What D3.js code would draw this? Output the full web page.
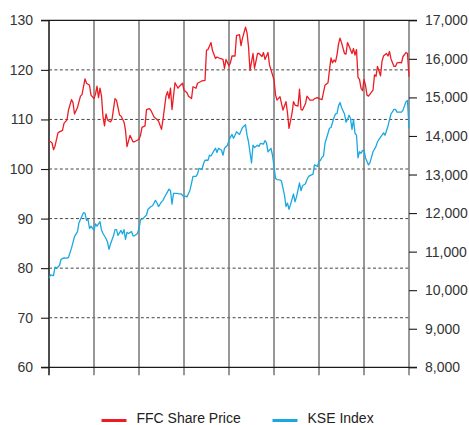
<!DOCTYPE html>
<html>
<head>
<meta charset="utf-8">
<script src="https://cdn.jsdelivr.net/npm/d3@7"></script>
<style>
  html, body { margin: 0; padding: 0; background: #fff; }
  svg { display: block; font-family: "Liberation Sans", Arial, sans-serif; }
</style>
</head>
<body>
<svg id="chart" width="469" height="425"></svg>
<script>
// Trading-session index (0..240) for each FFC observation, and the share price (PKR)
const ffcSession = [0,2,3,4,6,7,9,10,12,13,15,16,17,19,20,21,22,24,25,27,28,30,31,32,33,34,35,36,37,38,39,41,42,44,45,47,48,50,51,52,54,56,57,60,61,62,64,65,67,68,70,72,73,75,76,78,79,80,81,82,83,84,86,87,89,90,92,93,95,96,98,99,101,102,104,105,106,108,109,111,112,114,116,117,118,120,121,122,124,125,127,128,129,131,132,133,134,136,137,139,140,142,143,144,146,147,148,150,151,152,154,155,156,158,159,160,162,163,164,166,167,168,169,171,172,174,176,177,179,180,182,184,186,187,188,189,190,191,192,193,194,195,197,198,199,200,202,203,204,205,206,207,208,209,210,211,212,213,214,216,217,218,219,221,222,223,225,226,227,228,230,231,232,234,235,236,238,239,240];
const ffcPrice = [105.7,105.3,103.9,104.6,107.3,107.5,107.8,109.2,109.9,111.9,114,113.4,111.1,112.4,113.6,114.7,115,118.2,117.3,116.9,114.9,114.2,115.1,116.7,114.4,116.3,114.7,110.5,108.7,111.1,109.9,109.5,110,114.2,113.9,110.9,110.7,109.5,107.8,104.5,106.8,105.5,105.5,106,106.8,108.4,108.7,112,112.2,111.8,110.5,110,109.7,108,110,114.7,115.6,114.2,116.3,112,114.7,117.4,116.3,116.7,117.3,115.9,115.4,114.7,114.2,116.6,116.3,117.3,117.6,117.8,117.9,124,124.1,125.5,123.9,122.3,122.6,122.3,122.1,120.3,122.1,120.8,121.5,122.8,122.8,126.9,127.1,124.9,126.4,128.6,127.5,124.7,119.9,123.3,120.3,123.3,123.3,122.7,123.5,122.1,123.5,121,120,118,115,113.9,114.6,113.2,111.9,113.6,111.3,108.2,111.2,113.6,112.9,112.7,116.1,112,111.9,113.2,114.7,113.9,113.9,114.2,114.4,114.2,114,116.9,117.4,120,122.4,121.4,122,121.6,123,125.2,126.4,125.5,123.3,123.2,125.5,124.8,123.3,124.3,123,124.1,118.5,118.1,116.3,115.8,118.1,116.9,114.9,114.7,115.1,115.9,119,118.7,120.7,118.8,121.7,122.8,123.3,122.8,123.7,122.2,120.7,120.7,121.4,121.5,121.4,122.7,123.5,123.3,118.6];

// Trading-session index for each KSE observation, and the index level
const kseSession = [0,1,3,4,5,7,8,10,12,13,15,16,17,19,20,21,23,24,25,26,27,28,30,31,32,34,35,36,38,39,40,41,43,44,45,46,48,49,50,51,52,53,55,56,57,59,60,61,63,65,66,68,69,71,72,73,75,76,77,79,80,81,82,83,85,87,88,90,91,92,94,95,96,98,99,100,102,103,104,106,107,108,110,111,112,113,115,116,117,119,120,122,123,124,125,127,128,129,131,132,133,135,136,137,139,140,141,143,144,145,146,148,149,150,151,152,154,155,156,157,158,159,160,161,163,164,165,167,168,169,171,172,173,175,176,177,179,180,181,182,183,184,186,187,188,190,191,192,193,194,195,197,198,199,200,201,202,203,204,205,206,207,208,209,210,211,213,214,215,216,218,219,220,222,223,224,226,227,228,230,231,232,234,235,236,238,239,240];
const kseIndex = [10310,10400,10380,10600,10570,10640,10800,10840,10830,10850,11090,11240,11390,11520,11750,11840,12010,12000,11810,11840,11600,11660,11550,11720,11660,11780,11560,11470,11340,11250,11060,11200,11410,11570,11570,11420,11550,11460,11570,11320,11500,11470,11520,11410,11410,11470,11600,11820,11870,11950,12100,12170,12190,12330,12260,12170,12290,12330,12410,12550,12620,12580,12230,12510,12510,12500,12500,12420,12440,12420,12600,12770,12950,12950,13010,13160,13130,13280,13370,13370,13500,13480,13620,13680,13570,13680,13630,13500,13680,13760,13900,14040,13940,14020,14110,14040,14130,14220,14290,14020,13850,13300,13760,13700,13760,13730,13810,13790,13880,13820,13590,13680,13500,13210,12900,12870,12860,12830,12640,12460,12170,12260,12100,12220,12500,12290,12420,12780,12580,12710,12760,12870,12950,12990,13010,13250,13210,13340,13370,13450,13480,13810,14070,14200,14220,14480,14570,14580,14780,14870,14740,14570,14360,14430,14540,14450,14170,14430,14070,14020,13430,13590,13550,13620,13630,13430,13250,13310,13450,13590,13730,13850,13910,14020,14080,14020,14260,14420,14570,14690,14690,14620,14620,14620,14670,14890,14920,14200];

// Axis ticks
const priceTicks = [60, 70, 80, 90, 100, 110, 120, 130];
const indexTicks = [8000, 9000, 10000, 11000, 12000, 13000, 14000, 15000, 16000, 17000];
const periodBreaks = [0, 30, 60, 90, 120, 150, 180, 210, 240];

const seriesNames = ["FFC Share Price", "KSE Index"];
const seriesColors = ["#ed1c24", "#1aa8e2"];

const svg = d3.select("#chart");
const plotLeft = 49, plotRight = 409, plotTop = 20.3, plotBottom = 367.3;

const x = d3.scaleLinear().domain([0, 240]).range([plotLeft, plotRight]);
const yL = d3.scaleLinear().domain([60, 130]).range([plotBottom, plotTop]);
const yR = d3.scaleLinear().domain([8000, 17000]).range([plotBottom, plotTop]);

// Dashed horizontal gridlines (interior price levels)
svg.append("g")
  .selectAll("line")
  .data(priceTicks.filter(d => d > 60 && d < 130))
  .join("line")
  .attr("x1", plotLeft).attr("x2", plotRight)
  .attr("y1", d => yL(d)).attr("y2", d => yL(d))
  .attr("stroke", "#444")
  .attr("stroke-width", 1)
  .attr("stroke-dasharray", "3,2.4");

// Vertical period separators, extending below the baseline as ticks
svg.append("g")
  .selectAll("line")
  .data(periodBreaks)
  .join("line")
  .attr("x1", d => x(d)).attr("x2", d => x(d))
  .attr("y1", plotTop).attr("y2", plotBottom + 8)
  .attr("stroke", (d, i) => i === 0 ? "#3a3a3a" : "#767676")
  .attr("stroke-width", (d, i) => i === 0 ? 1.8 : 1.5);

// Top and bottom frame lines spanning the tick marks on both sides
svg.append("g")
  .selectAll("line")
  .data([130, 60])
  .join("line")
  .attr("x1", plotLeft - 8).attr("x2", plotRight + 8)
  .attr("y1", d => yL(d)).attr("y2", d => yL(d))
  .attr("stroke", "#1a1a1a")
  .attr("stroke-width", 1.3);

// Left axis (share price)
const axL = svg.append("g")
  .attr("transform", `translate(${plotLeft},0)`)
  .call(d3.axisLeft(yL).tickValues(priceTicks).tickSize(8).tickPadding(8));
axL.select(".domain").remove();
axL.selectAll(".tick line").attr("stroke", "#1a1a1a").attr("stroke-width", 1.1);
axL.selectAll(".tick text").attr("fill", "#333").style("font-size", "14px")
  .style("font-family", "'Liberation Sans', Arial, sans-serif");

// Right axis (index level)
const axR = svg.append("g")
  .attr("transform", `translate(${plotRight},0)`)
  .call(d3.axisRight(yR).tickValues(indexTicks).tickSize(8).tickPadding(8).tickFormat(d3.format(",")));
axR.select(".domain").remove();
axR.selectAll(".tick line").attr("stroke", "#1a1a1a").attr("stroke-width", 1.1);
axR.selectAll(".tick text").attr("fill", "#333").style("font-size", "14px")
  .style("font-family", "'Liberation Sans', Arial, sans-serif");

// Series lines
const ffcLine = d3.line().x((d, i) => x(ffcSession[i])).y(d => yL(d));
const kseLine = d3.line().x((d, i) => x(kseSession[i])).y(d => yR(d));

svg.append("path")
  .datum(kseIndex)
  .attr("d", kseLine)
  .attr("fill", "none")
  .attr("stroke", seriesColors[1])
  .attr("stroke-width", 1.3)
  .attr("stroke-linejoin", "round");

svg.append("path")
  .datum(ffcPrice)
  .attr("d", ffcLine)
  .attr("fill", "none")
  .attr("stroke", seriesColors[0])
  .attr("stroke-width", 1.3)
  .attr("stroke-linejoin", "round");

// Legend
const legendPos = [101.5, 272.5];
const legend = svg.append("g");
const item = legend.selectAll("g")
  .data(seriesNames)
  .join("g")
  .attr("transform", (d, i) => `translate(${legendPos[i]},420.5)`);
item.append("line")
  .attr("x1", 0).attr("x2", 25)
  .attr("stroke", (d, i) => seriesColors[i])
  .attr("stroke-width", 3);
item.append("text")
  .attr("x", 35)
  .attr("y", 2.5)
  .attr("fill", "#222")
  .style("font-size", "14px")
  .text(d => d);
</script>
</body>
</html>
